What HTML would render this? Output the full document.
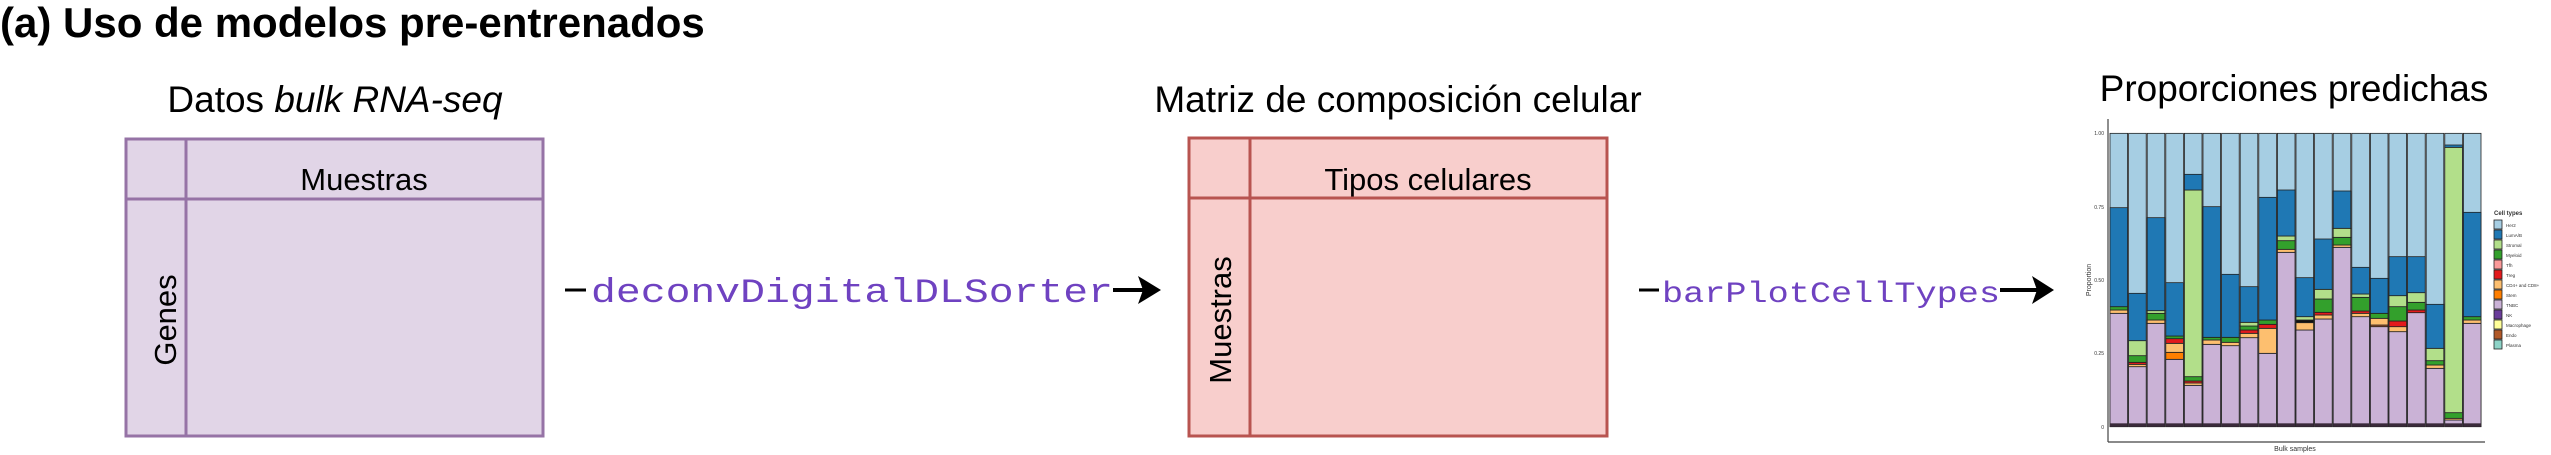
<!DOCTYPE html>
<html><head><meta charset="utf-8"><style>
html,body{margin:0;padding:0;background:#fff;width:2551px;height:455px;overflow:hidden}
</style></head><body>
<svg id="s" width="2551" height="455" xmlns="http://www.w3.org/2000/svg" font-family="Liberation Sans, sans-serif">
<text x="0" y="37" font-size="42" font-weight="bold" fill="#000">(a) Uso de modelos pre-entrenados</text>
<text x="335" y="112" font-size="37" text-anchor="middle">Datos <tspan font-style="italic">bulk RNA-seq</tspan></text>
<text x="1398" y="112" font-size="37" text-anchor="middle">Matriz de composición celular</text>
<text x="2294" y="101" font-size="37" text-anchor="middle">Proporciones predichas</text>
<!-- purple box -->
<rect x="126" y="139" width="417" height="297" fill="#e1d5e7" stroke="#9673a6" stroke-width="3"/>
<line x1="186" y1="139" x2="186" y2="436" stroke="#9673a6" stroke-width="3"/>
<line x1="126" y1="199" x2="543" y2="199" stroke="#9673a6" stroke-width="3"/>
<text x="364" y="190" font-size="31" text-anchor="middle">Muestras</text>
<text transform="translate(176,320) rotate(-90)" font-size="31" text-anchor="middle">Genes</text>
<!-- red box -->
<rect x="1189" y="138" width="418" height="298" fill="#f8cecc" stroke="#b85450" stroke-width="3"/>
<line x1="1250" y1="138" x2="1250" y2="436" stroke="#b85450" stroke-width="3"/>
<line x1="1189" y1="198" x2="1607" y2="198" stroke="#b85450" stroke-width="3"/>
<text x="1428" y="190" font-size="31" text-anchor="middle">Tipos celulares</text>
<text transform="translate(1231,320) rotate(-90)" font-size="31" text-anchor="middle">Muestras</text>
<!-- arrow 1 -->
<line x1="565" y1="290" x2="586" y2="290" stroke="#000" stroke-width="3"/>
<text x="591" y="302" font-family="Liberation Mono, monospace" font-size="34" fill="#6f42c1" textLength="522" lengthAdjust="spacingAndGlyphs">deconvDigitalDLSorter</text>
<line x1="1113" y1="290" x2="1145" y2="290" stroke="#000" stroke-width="4"/>
<polygon points="1138,276 1161,290 1138,304 1143,290" fill="#000"/>
<!-- arrow 2 -->
<line x1="1639" y1="290" x2="1659" y2="290" stroke="#000" stroke-width="3"/>
<text x="1662" y="302" font-family="Liberation Mono, monospace" font-size="30" fill="#6f42c1" textLength="338" lengthAdjust="spacingAndGlyphs">barPlotCellTypes</text>
<line x1="2000" y1="290" x2="2040" y2="290" stroke="#000" stroke-width="4"/>
<polygon points="2032,276 2054,290 2032,304 2037,290" fill="#000"/>
<!-- plot -->
<g id="plot"></g>
<line x1="2108" y1="119" x2="2108" y2="442" stroke="#444" stroke-width="1.2"/>
<line x1="2108" y1="442" x2="2485" y2="442" stroke="#444" stroke-width="1.2"/>
<g font-size="5" fill="#333" text-anchor="end">
<text x="2104" y="135">1.00</text><text x="2104" y="209">0.75</text><text x="2104" y="282">0.50</text><text x="2104" y="355">0.25</text><text x="2104" y="429">0</text>
</g>
<text transform="translate(2091,280) rotate(-90)" font-size="7" text-anchor="middle" fill="#333">Proportion</text>
<text x="2295" y="451" font-size="7" text-anchor="middle" fill="#333">Bulk samples</text>
<text x="2494" y="215" font-size="6" font-weight="bold" fill="#333">Cell types</text>
<g id="leg"></g>
</svg>
<script>
var C={lb:"#a6cee3",b:"#1f78b4",lg:"#b2df8a",g:"#33a02c",pk:"#fb9a99",r:"#e31a1c",lo:"#fdbf6f",o:"#ff7f00",lav:"#cab2d6",pu:"#6a3d9a",y:"#ffff99",br:"#b15928",t:"#8dd3c7",k:"#111"};
// boundaries in zoom coords (bottom->top): [topY,color]
var D=[
[[610,"lav"],[600,"lo"],[590,"g"],[293,"b"]],
[[770,"lav"],[763,"lo"],[757,"r"],[737,"g"],[692,"lg"],[550,"b"]],
[[640,"lav"],[630,"lo"],[610,"g"],[602,"lg"],[323,"b"]],
[[748,"lav"],[727,"o"],[700,"lo"],[686,"r"],[678,"g"],[518,"b"]],
[[826,"lav"],[819,"lo"],[813,"r"],[800,"g"],[240,"lg"],[193,"b"]],
[[703,"lav"],[690,"lo"],[682,"g"],[290,"b"]],
[[707,"lav"],[697,"lo"],[682,"g"],[493,"b"]],
[[683,"lav"],[670,"lo"],[660,"r"],[648,"g"],[637,"lg"],[530,"b"]],
[[730,"lav"],[655,"lo"],[643,"r"],[630,"g"],[262,"b"]],
[[427,"lav"],[418,"lo"],[392,"g"],[378,"lg"],[240,"b"]],
[[660,"lav"],[638,"lo"],[630,"k"],[620,"lg"],[503,"b"]],
[[627,"lav"],[615,"lo"],[607,"r"],[567,"g"],[538,"lg"],[387,"b"]],
[[412,"lav"],[405,"lo"],[382,"g"],[355,"lg"],[243,"b"]],
[[620,"lav"],[610,"lo"],[603,"r"],[562,"g"],[552,"lg"],[472,"b"]],
[[650,"lav"],[645,"br"],[625,"lo"],[610,"g"],[505,"b"]],
[[665,"lav"],[650,"lo"],[633,"r"],[590,"g"],[557,"lg"],[440,"b"]],
[[608,"lav"],[600,"r"],[577,"g"],[548,"lg"],[440,"b"]],
[[775,"lav"],[765,"lo"],[752,"g"],[715,"lg"],[583,"b"]],
[[930,"lav"],[925,"lo"],[908,"g"],[112,"lg"],[105,"b"]],
[[640,"lav"],[630,"lo"],[620,"g"],[307,"b"]]];
var ns="http://www.w3.org/2000/svg",P=document.getElementById("plot");
function R(p,x,y,w,h,f,s){var e=document.createElementNS(ns,"rect");e.setAttribute("x",x);e.setAttribute("y",y);e.setAttribute("width",w);e.setAttribute("height",h);e.setAttribute("fill",f);if(s){e.setAttribute("stroke",s);e.setAttribute("stroke-width","0.8");}p.appendChild(e);}
function Y(z){return 110+z/3;}
D.forEach(function(bar,i){var x=2110+i*18.6,w=17.6,prev=950;
 R(P,x,Y(70),w,Y(950)-Y(70),C.lb,"#222");
 bar.forEach(function(s){R(P,x,Y(s[0]),w,Y(prev)-Y(s[0]),C[s[1]],"#222");prev=s[0];});
 R(P,x,Y(940),w,Y(950)-Y(940),"#3a2a3a");
});
var L=document.getElementById("leg"),keys=["lb","b","lg","g","pk","r","lo","o","lav","pu","y","br","t"],
names=["Her2","LumA/B","Stromal","Myeloid","Tfh","Treg","CD4+ and CD8+","Stem","TNBC","NK","Macrophage","Endo","Plasma"];
keys.forEach(function(k,i){var y=220+i*10;R(L,2494,y,8,9,C[k],"#222");var t=document.createElementNS(ns,"text");t.setAttribute("x",2506);t.setAttribute("y",y+7);t.setAttribute("font-size","4.5");t.setAttribute("fill","#333");t.textContent=names[i];L.appendChild(t);});
</script>
</body></html>
